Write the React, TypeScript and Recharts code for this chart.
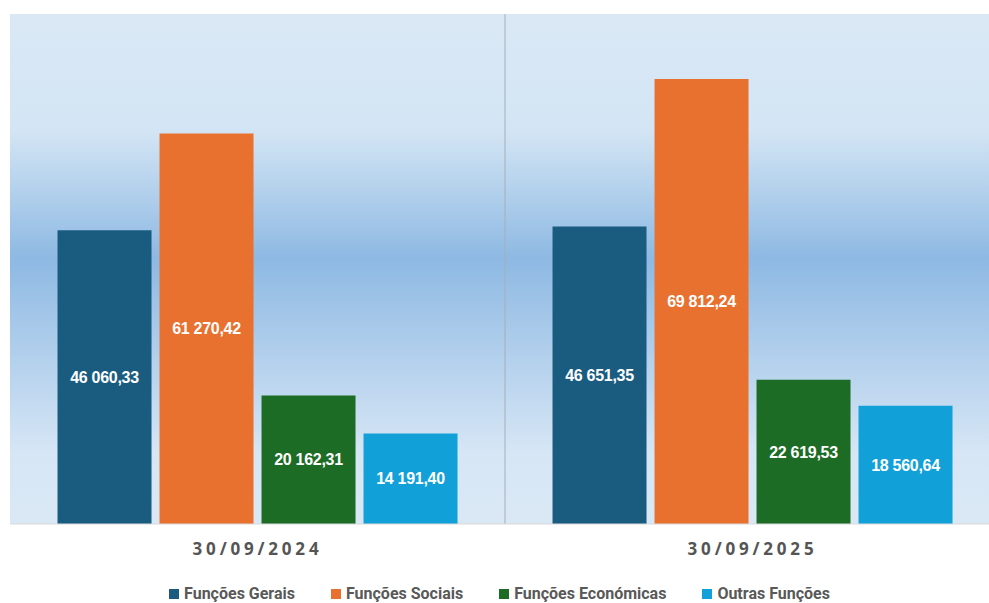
import React from "react";
import {
  BarChart,
  Bar,
  XAxis,
  YAxis,
  CartesianGrid,
  Legend,
  LabelList,
} from "recharts";

const categories = ["30/09/2024", "30/09/2025"];
const funcoesGerais = [46060.33, 46651.35];
const funcoesSociais = [61270.42, 69812.24];
const funcoesEconomicas = [20162.31, 22619.53];
const outrasFuncoes = [14191.4, 18560.64];

const SERIES = [
  { key: "gerais", name: "Funções Gerais", color: "#1A5C80" },
  { key: "sociais", name: "Funções Sociais", color: "#E9712F" },
  { key: "economicas", name: "Funções Económicas", color: "#1D6C25" },
  { key: "outras", name: "Outras Funções", color: "#12A0D9" },
];

const data = categories.map((name, i) => ({
  name,
  gerais: funcoesGerais[i],
  sociais: funcoesSociais[i],
  economicas: funcoesEconomicas[i],
  outras: outrasFuncoes[i],
}));

const formatPT = (v: number) => {
  const [int, dec] = v.toFixed(2).split(".");
  return `${int.replace(/\B(?=(\d{3})+(?!\d))/g, " ")},${dec}`;
};

const labelStyle = {
  fill: "#FFFFFF",
  fontSize: 16,
  fontWeight: 700,
  letterSpacing: -0.3,
  fontFamily: "'Liberation Sans', Arial, sans-serif",
};

function DateTick({ x, y, payload }: any) {
  return (
    <text
      x={x}
      y={y + 23}
      textAnchor="middle"
      fill="#555555"
      fontSize={17}
      fontWeight={700}
      letterSpacing={3.8}
      fontFamily="'Open Sans', sans-serif"
    >
      {payload.value}
    </text>
  );
}

function LegendContent() {
  return (
    <div
      style={{
        display: "flex",
        justifyContent: "center",
        gap: 36,
        fontFamily: "Roboto, sans-serif",
        fontWeight: 700,
        fontSize: 16,
        color: "#595959",
        paddingLeft: 10,
      }}
    >
      {SERIES.map((s) => (
        <div key={s.key} style={{ display: "flex", alignItems: "center" }}>
          <span
            style={{
              width: 10,
              height: 10,
              backgroundColor: s.color,
              display: "inline-block",
              marginRight: 5,
            }}
          />
          <span>{s.name}</span>
        </div>
      ))}
    </div>
  );
}

export default function App() {
  return (
    <div
      style={{
        position: "absolute",
        left: 0,
        top: 0,
        width: 989,
        height: 603,
        overflow: "hidden",
        background: "#FFFFFF",
      }}
    >
      <div style={{ position: "absolute", left: 0, top: 0, width: 1000 }}>
        <BarChart
          width={1000}
          height={603}
          data={data}
          margin={{ top: 14, right: 0, left: 10, bottom: 0 }}
          barCategoryGap="9.6%"
          barGap={8}
        >
          <defs>
            <linearGradient id="plotBg" x1="0" y1="0" x2="0" y2="1">
              <stop offset="0%" stopColor="#DAE8F5" />
              <stop offset="23%" stopColor="#D3E5F4" />
              <stop offset="48%" stopColor="#8EB9E3" />
              <stop offset="86%" stopColor="#D6E6F5" />
              <stop offset="100%" stopColor="#DAE8F5" />
            </linearGradient>
          </defs>
          <CartesianGrid
            fill="url(#plotBg)"
            horizontal={false}
            stroke="#A6AEB8"
            verticalCoordinatesGenerator={({ offset }: any) => [
              offset.left + offset.width / 2,
            ]}
          />
          <XAxis
            dataKey="name"
            height={60}
            tickLine={false}
            axisLine={{ stroke: "#D9D9D9" }}
            tick={<DateTick />}
          />
          <YAxis hide domain={[0, 80000]} />
          <Legend
            verticalAlign="bottom"
            wrapperStyle={{ bottom: 0, left: 0, width: 989 }}
            content={<LegendContent />}
          />
          {SERIES.map((s) => (
            <Bar
              key={s.key}
              dataKey={s.key}
              name={s.name}
              fill={s.color}
              isAnimationActive={false}
            >
              <LabelList
                dataKey={s.key}
                position="center"
                formatter={(v: any) => formatPT(Number(v))}
                style={labelStyle}
              />
            </Bar>
          ))}
        </BarChart>
      </div>
    </div>
  );
}
